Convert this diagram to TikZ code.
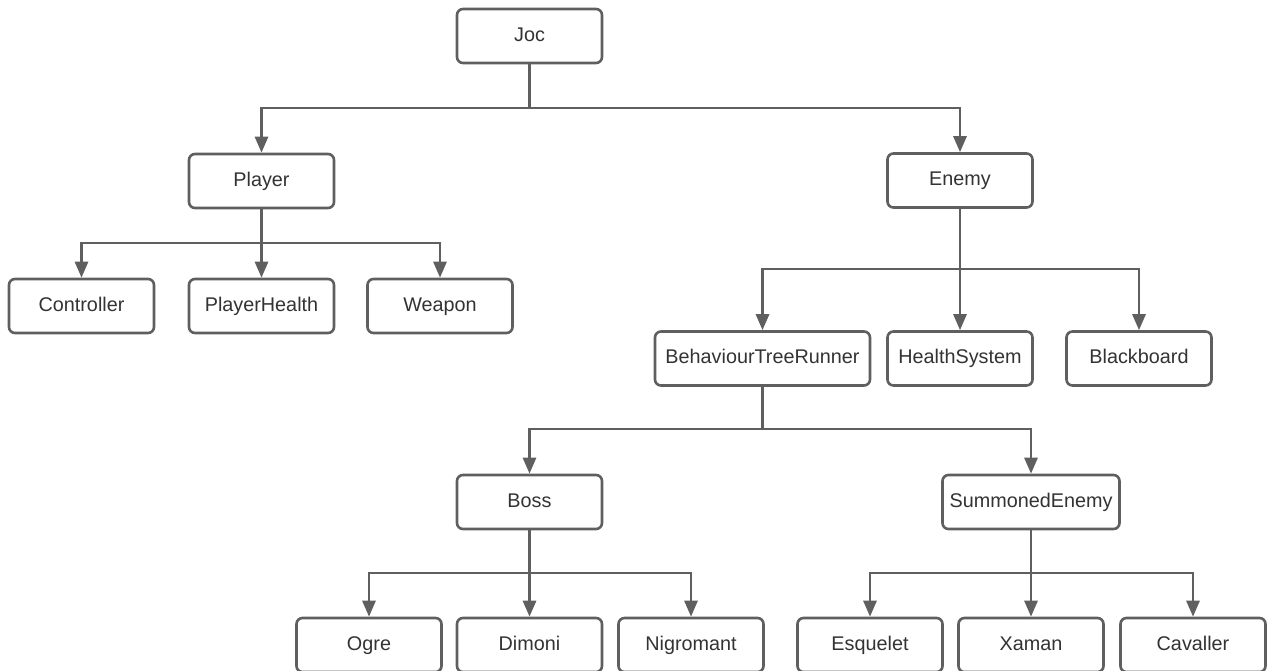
\documentclass[tikz,border=0pt]{standalone}
\usepackage{fontspec}
\setmainfont{Liberation Sans}
\usetikzlibrary{arrows.meta}
\definecolor{lc}{HTML}{5F5F5F}
\definecolor{tc}{HTML}{333333}
\tikzset{
  box/.style={draw=lc, line width=2.6pt, rounded corners=6pt, fill=white,
    minimum width=#1, minimum height=54pt, inner sep=0pt, text=tc,
    text height=14pt, text depth=4pt,
    font=\fontsize{19.8}{23}\selectfont},
  box/.default=145pt,
  link/.style={draw=lc, line width=2.8pt},
  arr/.style={link, -{Triangle[width=13pt,length=16pt]}}
}
\begin{document}
\begin{tikzpicture}[x=1pt,y=-1pt]
\clip (0,0) rectangle (1271,670);
\useasboundingbox (0,0) rectangle (1271,670);
% nodes
\node[box] (joc) at (529.5,36) {Joc};
\node[box] (player) at (261.5,181) {Player};
\node[box] (enemy) at (960,180.5) {Enemy};
\node[box] (controller) at (81.5,306) {Controller};
\node[box] (playerhealth) at (261.5,306) {PlayerHealth};
\node[box] (weapon) at (440,306) {Weapon};
\node[box=215pt] (btr) at (762.5,358.5) {BehaviourTreeRunner};
\node[box] (healthsystem) at (960,358.5) {HealthSystem};
\node[box] (blackboard) at (1139,358.5) {Blackboard};
\node[box] (boss) at (529.5,502) {Boss};
\node[box=177pt] (summoned) at (1031,502) {SummonedEnemy};
\node[box] (ogre) at (369,645) {Ogre};
\node[box] (dimoni) at (529.5,645) {Dimoni};
\node[box] (nigromant) at (691,645) {Nigromant};
\node[box] (esquelet) at (870,645) {Esquelet};
\node[box] (xaman) at (1031,645) {Xaman};
\node[box] (cavaller) at (1193,645) {Cavaller};
% bus junctions
\coordinate (b1) at (529.5,108);
\coordinate (b2) at (261.5,243);
\coordinate (b3) at (960,269);
\coordinate (b4) at (762.5,429);
\coordinate (b5) at (529.5,573);
\coordinate (b6) at (1031,573);
% connectors
\draw[link] (joc.south) -- (b1);
\draw[arr] (b1) -| (player.north);
\draw[arr] (b1) -| (enemy.north);
\draw[arr] (player.south) -- (playerhealth.north);
\draw[arr] (b2) -| (controller.north);
\draw[arr] (b2) -| (weapon.north);
\draw[arr] (enemy.south) -- (healthsystem.north);
\draw[arr] (b3) -| (btr.north);
\draw[arr] (b3) -| (blackboard.north);
\draw[link] (btr.south) -- (b4);
\draw[arr] (b4) -| (boss.north);
\draw[arr] (b4) -| (summoned.north);
\draw[arr] (boss.south) -- (dimoni.north);
\draw[arr] (b5) -| (ogre.north);
\draw[arr] (b5) -| (nigromant.north);
\draw[arr] (summoned.south) -- (xaman.north);
\draw[arr] (b6) -| (esquelet.north);
\draw[arr] (b6) -| (cavaller.north);
\end{tikzpicture}
\end{document}
